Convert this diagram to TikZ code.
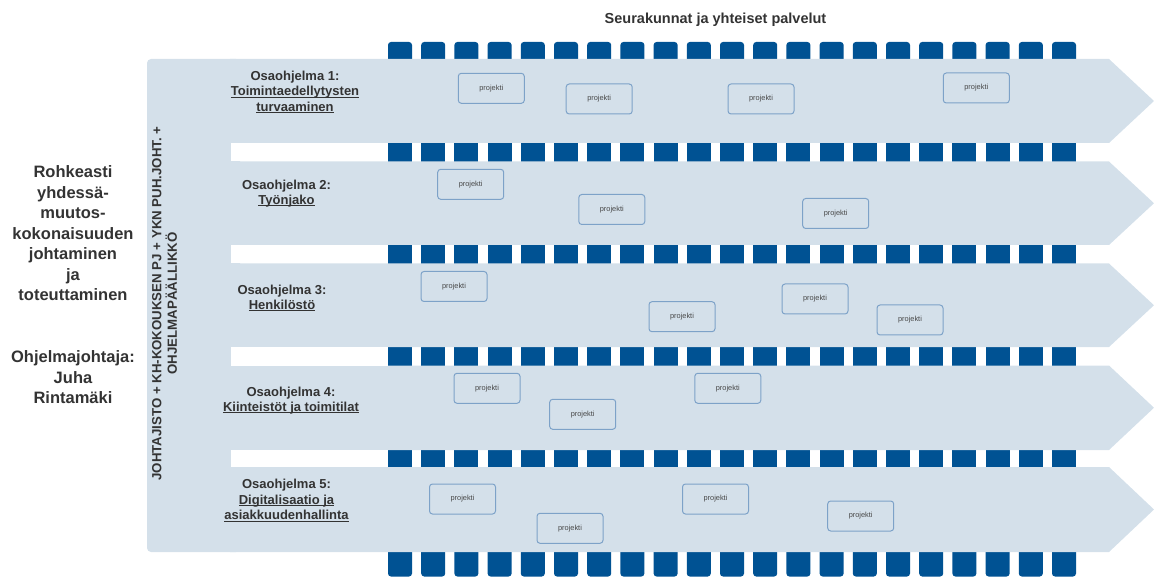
\documentclass[tikz,border=0pt]{standalone}
\usepackage{fontspec}
\setmainfont{Liberation Sans}
\definecolor{panel}{RGB}{212,224,234}
\definecolor{sq}{RGB}{0,82,147}
\definecolor{boxc}{RGB}{125,162,200}
\definecolor{txt}{RGB}{51,51,51}
\newcommand\myul[1]{\setbox0\hbox{#1}\rlap{\rule[-1.7pt]{\wd0}{0.9pt}}\box0}
\tikzset{
  proj/.style={draw=boxc, line width=1pt, rounded corners=3pt, minimum width=66pt, minimum height=30pt, inner sep=0pt, text=txt!90, font=\fontsize{7.4}{9}\selectfont},
  rowlbl/.style={align=center, text=txt, inner sep=0pt, font=\bfseries\fontsize{13}{15.6}\selectfont},
  lefttxt/.style={align=center, text=txt, inner sep=0pt, font=\bfseries\fontsize{16.5}{20.5}\selectfont},
}
\begin{document}
\begin{tikzpicture}[x=1pt,y=-1pt]
\useasboundingbox (0,0) rectangle (1154,577);
% squares
\foreach \i in {0,...,20}{
  \pgfmathsetmacro\xa{388+33.2*\i}
  \fill[sq, rounded corners=3pt] (\xa,42) rectangle (\xa+24,68);
  \fill[sq] (\xa,139) rectangle (\xa+24,166);
  \fill[sq] (\xa,241) rectangle (\xa+24,268);
  \fill[sq] (\xa,343) rectangle (\xa+24,370);
  \fill[sq] (\xa,446) rectangle (\xa+24,471);
  \fill[sq, rounded corners=3pt] (\xa,545) rectangle (\xa+24,576.5);
}
% panel
\fill[panel, rounded corners=4pt] (147,59) rectangle (240,552);
\foreach \t/\b in {59/143, 161.5/245, 263.5/347, 365.5/450, 467/552}{
  \fill[panel] (230,\t) -- (1109,\t) -- (1154,{(\t+\b)/2}) -- (1109,\b) -- (230,\b) -- cycle;
}
% white strips between the rows
\foreach \t/\b in {143/161.5, 245/263.5, 347/365.5, 450/467}{
  \fill[white] (231,\t) rectangle (388,\b);
}
% title
\node[text=txt, font=\bfseries\fontsize{14.5}{17}\selectfont] (title) at (715.5,20) {Seurakunnat ja yhteiset palvelut};
% left texts
\node[lefttxt] (goal) at (73,233.3) {Rohkeasti\\yhdessä-\\muutos-\\kokonaisuuden\\johtaminen\\ja\\toteuttaminen};
\node[lefttxt] (lead) at (73,377.3) {Ohjelmajohtaja:\\Juha\\Rintamäki};
% vertical text
\node[rotate=90, align=center, text=txt, inner sep=0pt, font=\bfseries\fontsize{13.25}{15.6}\selectfont] (gov) at (164.5,303.5) {JOHTAJISTO + KH-KOKOUKSEN PJ + YKN PUH.JOHT. +\\OHJELMAPÄÄLLIKKÖ};
% row labels
\node[rowlbl] (r1) at (295,92) {Osaohjelma 1:\\\myul{Toimintaedellytysten}\\\myul{turvaaminen}};
\node[rowlbl] (r2) at (286.5,193.5) {Osaohjelma 2:\\\myul{Työnjako}};
\node[rowlbl] (r3) at (282,298) {Osaohjelma 3:\\\myul{Henkilöstö}};
\node[rowlbl] (r4) at (291,400.5) {Osaohjelma 4:\\\myul{Kiinteistöt ja toimitilat}};
\node[rowlbl] (r5) at (286.5,500.3) {Osaohjelma 5:\\\myul{Digitalisaatio ja}\\\myul{asiakkuudenhallinta}};
% projects
\node[proj] (p11) at (491.3,88.3) {projekti};
\node[proj] (p12) at (599.2,99) {projekti};
\node[proj] (p13) at (761,99) {projekti};
\node[proj] (p14) at (976.3,88) {projekti};
\node[proj] (p21) at (470.7,184.3) {projekti};
\node[proj] (p22) at (611.8,209.5) {projekti};
\node[proj] (p23) at (835.7,213.5) {projekti};
\node[proj] (p31) at (454,286.5) {projekti};
\node[proj] (p32) at (682,316.7) {projekti};
\node[proj] (p33) at (815,299) {projekti};
\node[proj] (p34) at (910,320) {projekti};
\node[proj] (p41) at (487,388.3) {projekti};
\node[proj] (p42) at (582.7,414.3) {projekti};
\node[proj] (p43) at (727.8,388.3) {projekti};
\node[proj] (p51) at (462.5,499) {projekti};
\node[proj] (p52) at (570,528.3) {projekti};
\node[proj] (p53) at (715.5,499) {projekti};
\node[proj] (p54) at (860.7,516) {projekti};
\end{tikzpicture}
\end{document}
